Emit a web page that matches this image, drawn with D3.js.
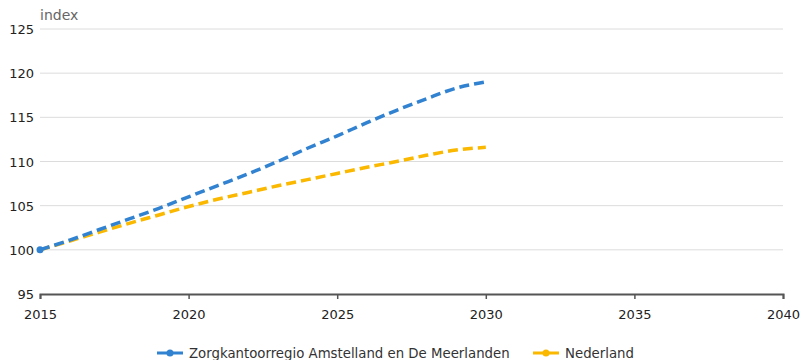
<!DOCTYPE html>
<html>
<head>
<meta charset="utf-8">
<script src="https://cdn.jsdelivr.net/npm/d3@7"></script>
<style>
  body { margin: 0; background: #fff; }
  svg text { font-family: "DejaVu Sans", Verdana, sans-serif; }
</style>
</head>
<body>
<div id="chart"></div>
<script>
var years = d3.range(2015, 2031)
var regio = [100, 101.1, 102.3, 103.5, 104.7, 106.0, 107.3, 108.6, 110.0, 111.5, 112.9, 114.4, 115.8, 117.1, 118.3, 119.0]
var nederland = [100, 101.0, 102.0, 103.0, 103.95, 104.9, 105.75, 106.5, 107.25, 107.95, 108.65, 109.35, 110.0, 110.7, 111.3, 111.6]
var xTicks = [2015, 2020, 2025, 2030, 2035, 2040]
var yTicks = [95, 100, 105, 110, 115, 120, 125]
var seriesNames = ['Zorgkantoorregio Amstelland en De Meerlanden', 'Nederland']
var colors = ['#3182d0', '#fbb800']

var width = 800, height = 360
var margin = {left: 40, right: 17, top: 29, bottom: 66}
var w = width - margin.left - margin.right
var h = height - margin.top - margin.bottom

var svg = d3.select('#chart').append('svg')
  .attr('width', width).attr('height', height)

var g = svg.append('g').attr('transform', 'translate(' + margin.left + ',' + margin.top + ')')

var x = d3.scaleLinear().domain([2015, 2040]).range([0, w])
var y = d3.scaleLinear().domain([95, 125]).range([h, 0])

// grid
g.selectAll('line.grid').data(yTicks.slice(1)).join('line')
  .attr('class', 'grid')
  .attr('x1', 0).attr('x2', w)
  .attr('y1', d => y(d)).attr('y2', d => y(d))
  .attr('stroke', '#dcdcdc').attr('stroke-width', 1)

// y labels
g.selectAll('text.ylab').data(yTicks).join('text')
  .attr('class', 'ylab')
  .attr('x', -6).attr('y', d => y(d) + 5)
  .attr('text-anchor', 'end')
  .attr('font-size', 13).attr('fill', '#222')
  .text(d => d)

svg.append('text')
  .attr('x', 40).attr('y', 20)
  .attr('font-size', 14).attr('fill', '#666')
  .text('index')

// x axis
var xAxis = g.append('g').attr('transform', 'translate(0,' + h + ')')
  .call(d3.axisBottom(x).tickValues(xTicks).tickFormat(d3.format('d')).tickSize(5).tickPadding(11))
xAxis.select('.domain').attr('stroke', '#555').attr('stroke-width', 2)
xAxis.selectAll('.tick line').attr('stroke', '#555').attr('stroke-width', 1.5)
xAxis.selectAll('.tick text').attr('font-size', 13).attr('fill', '#222')
  .attr('font-family', '"DejaVu Sans", Verdana, sans-serif')

// lines
var line = d3.line()
  .x((d, i) => x(years[i]))
  .y(d => y(d))
  .curve(d3.curveMonotoneX)

;[nederland, regio].forEach(function(s, k) {
  var c = k == 0 ? colors[1] : colors[0]
  g.append('path')
    .attr('d', line(s))
    .attr('fill', 'none')
    .attr('stroke', c)
    .attr('stroke-width', 3.5)
    .attr('stroke-dasharray', '10,5')
})

g.append('circle')
  .attr('cx', x(years[0])).attr('cy', y(regio[0]))
  .attr('r', 3.5).attr('fill', colors[0])

// legend
var legendX = [157, 533]
seriesNames.forEach(function(name, i) {
  var lg = svg.append('g').attr('transform', 'translate(' + legendX[i] + ',353)')
  lg.append('line').attr('x1', 0).attr('x2', 26).attr('y1', 0).attr('y2', 0)
    .attr('stroke', colors[i]).attr('stroke-width', 3)
  lg.append('circle').attr('cx', 13).attr('cy', 0).attr('r', 3.5).attr('fill', colors[i])
  lg.append('text').attr('x', 32).attr('y', 5)
    .attr('font-size', 13.3).attr('fill', '#333')
    .text(name)
})
</script>
</body>
</html>
